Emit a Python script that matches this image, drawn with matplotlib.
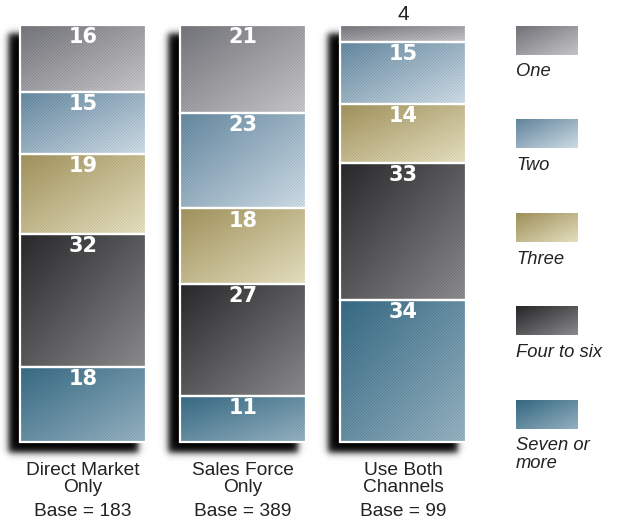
import numpy as np
import matplotlib
matplotlib.use("Agg")
import matplotlib.pyplot as plt
from matplotlib.patches import Rectangle

plt.rcParams["font.family"] = ["Liberation Sans", "DejaVu Sans"]

# ---- data -------------------------------------------------------------------
channels = ["Direct Market\nOnly", "Sales Force\nOnly", "Use Both\nChannels"]
bases = [183, 389, 99]
groups = ["One", "Two", "Three", "Four to six", "Seven or\nmore"]
one = [16, 21, 4]
two = [15, 23, 15]
three = [19, 18, 14]
four_to_six = [32, 27, 33]
seven_plus = [18, 11, 34]
series = [one, two, three, four_to_six, seven_plus]

# gradient end colours (top-left dark -> bottom-right light)
GRAD = [((112, 113, 118), (196, 196, 200)),
        ((96, 132, 156), (204, 218, 228)),
        ((158, 143, 88), (228, 222, 190)),
        ((36, 36, 38), (136, 136, 138)),
        ((50, 102, 128), (146, 175, 190))]

W_PX, H_PX, DPI = 618, 523, 100
BAR_W = 0.7875
PX_X = 160.0          # pixels per category step
PX_Y = 4.17           # pixels per percent
X0_PX, Y0_PX = 83, 25  # centre of first bar, top of bars


def texture(w, h, c0, c1, hatch=0.06):
    """diagonal gradient with a fine '/' stripe texture, w x h pixels"""
    w, h = max(int(round(w)), 1), max(int(round(h)), 1)
    iy, ix = np.mgrid[0:h, 0:w]
    t = 0.5 * (ix / max(w - 1, 1) + iy / max(h - 1, 1))
    c0, c1 = np.array(c0) / 255, np.array(c1) / 255
    img = c0 + (c1 - c0) * t[..., None]
    stripe = ((ix + iy) % 3 == 0)[..., None]
    img = img * (1 - hatch * stripe) + hatch * 0.4 * (~stripe)
    return np.clip(img, 0, 1)


fig = plt.figure(figsize=(W_PX / DPI, H_PX / DPI), dpi=DPI)
ax = fig.add_axes([0, 0, 1, 1])
ax.set_xlim(-X0_PX / PX_X, (W_PX - X0_PX) / PX_X)
ax.set_ylim((H_PX - Y0_PX) / PX_Y, -Y0_PX / PX_Y)
ax.axis("off")

xs = np.arange(len(channels))

# ---- soft drop shadow behind each bar ---------------------------------------
gx = np.linspace(*ax.get_xlim(), W_PX)
gy = np.linspace(ax.get_ylim()[1], ax.get_ylim()[0], H_PX)
soft = 4.0
alpha = np.zeros((H_PX, W_PX))
for x in xs:
    left = (x - BAR_W / 2) * PX_X - 12
    right = (x + BAR_W / 2) * PX_X - 8
    top, bot = 0 * PX_Y + 8, 100 * PX_Y + 11
    px, py = gx * PX_X, gy * PX_Y
    sx = 0.5 * (np.tanh((px - left) / soft) - np.tanh((px - right) / soft))
    sy = 0.5 * (np.tanh((py - top) / soft) - np.tanh((py - bot) / soft))
    alpha += sy[:, None] * sx[None, :]
shadow = np.zeros((H_PX, W_PX, 4))
shadow[..., 3] = np.clip(alpha, 0, 1)
ax.imshow(shadow, extent=(gx[0], gx[-1], gy[-1], gy[0]), origin="upper",
          aspect="auto", zorder=0)

# ---- stacked segments -------------------------------------------------------
for i, x in enumerate(xs):
    start = 0
    for k, vals in enumerate(series):
        v = vals[i]
        x0, x1 = x - BAR_W / 2, x + BAR_W / 2
        img = texture(BAR_W * PX_X, v * PX_Y, *GRAD[k])
        ax.imshow(img, extent=(x0, x1, start + v, start), origin="upper",
                  aspect="auto", zorder=2, interpolation="bilinear")
        ax.add_patch(Rectangle((x0, start), BAR_W, v, fill=False,
                               edgecolor="white", lw=1.6, zorder=3))
        if v < 6:
            ax.text(x, start - 0.3, str(v), ha="center", va="bottom",
                    fontsize=15, color="#222222", zorder=4)
        else:
            ax.text(x, start + 0.5, str(v), ha="center", va="top",
                    fontsize=15, fontweight="bold", color="white", zorder=4,
                    family="DejaVu Sans")
        start += v

# ---- category labels --------------------------------------------------------
for x, name, base in zip(xs, channels, bases):
    l1, l2 = name.split("\n")
    ax.text(x, (470 - Y0_PX) / PX_Y, l1, ha="center", va="center",
            fontsize=13.8, color="#222222")
    ax.text(x, (487 - Y0_PX) / PX_Y, l2, ha="center", va="center",
            fontsize=13.8, color="#222222")
    ax.text(x, (512 - Y0_PX) / PX_Y, f"Base = {base}", ha="center",
            va="center", fontsize=13.8, color="#222222")

# ---- legend -----------------------------------------------------------------
lax = fig.add_axes([0, 0, 1, 1])
lax.set_xlim(0, W_PX)
lax.set_ylim(H_PX, 0)
lax.axis("off")
for k, g in enumerate(groups):
    top = 26 + 93.5 * k
    img = texture(62, 29, *GRAD[k], hatch=0.04)
    lax.imshow(img, extent=(516, 578, top + 29, top), origin="upper",
               aspect="auto", zorder=2, interpolation="bilinear")
    for j, line in enumerate(g.split("\n")):
        lax.text(516, top + 46 + 17 * j, line, ha="left", va="center",
                 fontsize=13.2, style="italic", color="#222222")

fig.savefig("out.png", dpi=DPI)
